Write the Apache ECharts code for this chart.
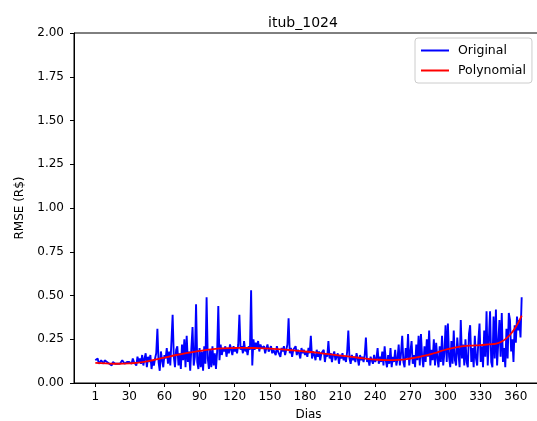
<!DOCTYPE html>
<html>
<head>
<meta charset="utf-8">
<script src="https://cdn.jsdelivr.net/npm/echarts@6/dist/echarts.min.js"></script>
<style>html,body{margin:0;padding:0;background:#fff;}#c{width:537px;height:421px;}</style>
</head>
<body>
<div id="c"></div>
<script>
const titleText = "itub_1024";
const xTicks = [1, 30, 60, 90, 120, 150, 180, 210, 240, 270, 300, 330, 360];
const yTicks = [0, 0.25, 0.5, 0.75, 1.0, 1.25, 1.5, 1.75, 2.0];
// Original RMSE by day (day 1..365)
const originalValues = [
0.13,0.12,0.14,0.11,0.12,0.13,0.12,0.11,0.13,0.12,
0.12,0.13,0.11,0.12,0.10,0.12,0.13,0.11,0.12,0.11,
0.12,0.11,0.12,0.13,0.12,0.11,0.10,0.12,0.11,0.12,
0.13,0.11,0.14,0.12,0.13,0.10,0.15,0.12,0.14,0.11,
0.16,0.10,0.14,0.17,0.09,0.15,0.12,0.16,0.08,0.13,
0.10,0.14,0.17,0.31,0.12,0.07,0.18,0.13,0.09,0.16,
0.14,0.20,0.11,0.18,0.10,0.24,0.39,0.15,0.09,0.19,
0.21,0.10,0.17,0.08,0.22,0.13,0.25,0.09,0.27,0.12,
0.18,0.07,0.20,0.32,0.10,0.15,0.45,0.12,0.08,0.20,
0.09,0.18,0.07,0.21,0.11,0.49,0.14,0.08,0.19,0.09,
0.21,0.10,0.17,0.08,0.18,0.44,0.13,0.22,0.16,0.20,
0.18,0.21,0.15,0.20,0.17,0.22,0.19,0.16,0.21,0.18,
0.20,0.17,0.22,0.39,0.19,0.21,0.17,0.24,0.18,0.20,
0.16,0.21,0.19,0.53,0.10,0.25,0.19,0.23,0.20,0.24,
0.18,0.22,0.20,0.19,0.21,0.17,0.20,0.22,0.18,0.19,
0.21,0.17,0.19,0.20,0.16,0.21,0.18,0.19,0.15,0.20,
0.18,0.21,0.16,0.19,0.22,0.37,0.17,0.20,0.15,0.19,
0.18,0.21,0.16,0.19,0.17,0.14,0.20,0.17,0.19,0.16,
0.18,0.15,0.20,0.17,0.27,0.14,0.18,0.16,0.13,0.19,
0.15,0.18,0.13,0.17,0.16,0.19,0.12,0.17,0.15,0.24,
0.14,0.17,0.12,0.16,0.18,0.13,0.15,0.17,0.11,0.16,
0.14,0.17,0.13,0.15,0.12,0.18,0.30,0.14,0.11,0.16,
0.13,0.15,0.12,0.17,0.14,0.10,0.16,0.13,0.15,0.12,
0.16,0.26,0.12,0.14,0.10,0.15,0.13,0.11,0.16,0.12,
0.14,0.20,0.11,0.15,0.12,0.18,0.10,0.21,0.13,0.09,
0.16,0.11,0.20,0.09,0.15,0.12,0.19,0.10,0.14,0.22,
0.10,0.17,0.27,0.12,0.09,0.20,0.14,0.28,0.10,0.18,
0.24,0.11,0.16,0.09,0.22,0.13,0.27,0.10,0.28,0.15,
0.09,0.21,0.12,0.25,0.15,0.30,0.10,0.19,0.13,0.25,
0.10,0.23,0.14,0.09,0.21,0.12,0.27,0.10,0.17,0.33,
0.12,0.34,0.15,0.09,0.24,0.11,0.30,0.13,0.10,0.26,
0.17,0.09,0.36,0.14,0.22,0.10,0.25,0.12,0.09,0.28,
0.33,0.12,0.20,0.09,0.27,0.14,0.10,0.24,0.34,0.12,
0.21,0.09,0.30,0.15,0.41,0.10,0.25,0.41,0.12,0.09,
0.38,0.14,0.42,0.10,0.09,0.36,0.15,0.40,0.12,0.20,
0.09,0.31,0.14,0.40,0.36,0.18,0.25,0.12,0.33,0.23,
0.38,0.30,0.36,0.26,0.49
];
const polyDays = [1,10,20,30,40,50,60,70,80,90,100,110,120,130,140,150,160,170,180,190,200,210,220,230,240,250,260,270,280,290,300,310,320,330,340,345,350,355,360,365];
const polyValues = [0.115,0.112,0.110,0.112,0.118,0.130,0.145,0.160,0.172,0.183,0.192,0.198,0.200,0.201,0.199,0.196,0.192,0.186,0.180,0.173,0.165,0.157,0.149,0.141,0.134,0.131,0.132,0.140,0.153,0.170,0.190,0.205,0.213,0.217,0.222,0.228,0.245,0.275,0.320,0.385];

const font = "DejaVu Sans";
const chart = echarts.init(document.getElementById('c'), null, {renderer: 'canvas'});
chart.setOption({
  animation: false,
  backgroundColor: '#fff',
  textStyle: {fontFamily: font},
  title: {text: titleText, left: 298, top: 11, textAlign: 'center',
    textStyle: {fontFamily: font, fontSize: 14, fontWeight: 'normal', color: '#000'}},
  grid: {left: 74, top: 33, height: 350, width: 469, outerBoundsMode: 'none', show: true, borderColor: '#000', borderWidth: 1, containLabel: false},
  legend: {
    orient: 'vertical', left: 415, top: 38, itemWidth: 28, itemHeight: 2, itemGap: 5,
    padding: [5, 6, 5, 6], borderColor: '#ccc', borderWidth: 1, borderRadius: 3, backgroundColor: '#fff',
    textStyle: {fontFamily: font, fontSize: 12.5, color: '#000', padding: [0, 0, 0, 4], lineHeight: 15},
    data: [{name: 'Original', icon: 'rect'}, {name: 'Polynomial', icon: 'rect'}]
  },
  xAxis: {
    type: 'value', min: -17.2, max: 383.2, name: 'Dias', nameLocation: 'middle', nameGap: 26,
    nameTextStyle: {fontFamily: font, fontSize: 12, color: '#000'},
    splitLine: {show: false},
    axisLine: {show: true, onZero: false, lineStyle: {color: '#000'}},
    axisTick: {show: true, length: 4, lineStyle: {color: '#000'}, customValues: xTicks},
    axisLabel: {color: '#000', fontSize: 12, fontFamily: font, margin: 8, customValues: xTicks}
  },
  yAxis: {
    type: 'value', min: 0, max: 2, interval: 0.25, name: 'RMSE (R$)', nameLocation: 'middle', nameGap: 48,
    nameTextStyle: {fontFamily: font, fontSize: 12, color: '#000'},
    splitLine: {show: false},
    axisLine: {show: true, onZero: false, lineStyle: {color: '#000'}},
    axisTick: {show: true, length: 4, lineStyle: {color: '#000'}},
    axisLabel: {color: '#000', fontSize: 12, fontFamily: font, margin: 10, formatter: v => v.toFixed(2)}
  },
  series: [
    {name: 'Original', type: 'line', showSymbol: false, symbol: 'none', color: '#0000ff',
     lineStyle: {color: '#0000ff', width: 1.9},
     data: originalValues.map((v, i) => [i + 1, v])},
    {name: 'Polynomial', type: 'line', showSymbol: false, symbol: 'none', smooth: true, color: '#ff0000',
     lineStyle: {color: '#ff0000', width: 1.8},
     data: polyDays.map((d, i) => [d, polyValues[i]])}
  ]
});
</script>
</body>
</html>
